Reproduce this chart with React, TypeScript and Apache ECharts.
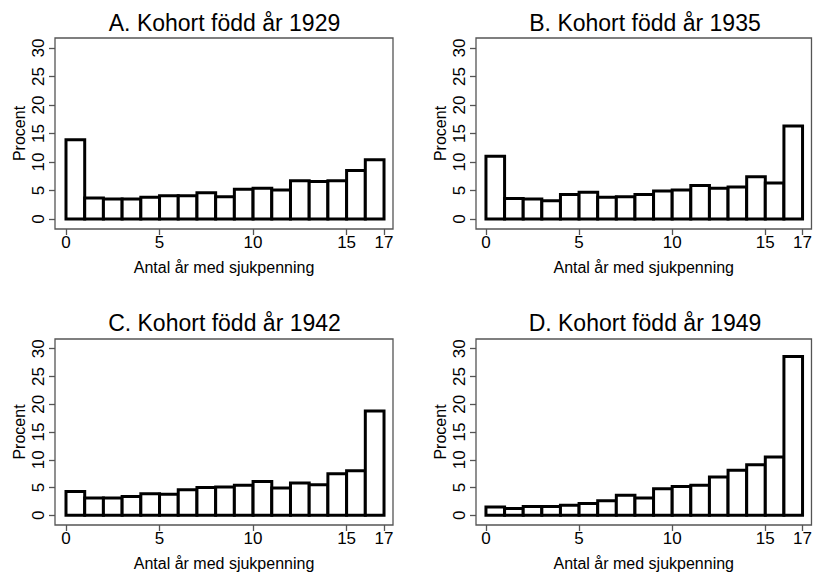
import React, { useEffect, useRef } from "react";
import * as echarts from "echarts";

const titles = [
  "A. Kohort född år 1929",
  "B. Kohort född år 1935",
  "C. Kohort född år 1942",
  "D. Kohort född år 1949",
];

const xTicks = [0, 5, 10, 15, 17];
const yTicks = [0, 5, 10, 15, 20, 25, 30];

const cohort1929 = [13.9, 3.7, 3.5, 3.5, 3.8, 4.1, 4.1, 4.6, 3.9, 5.2, 5.4, 5.1, 6.7, 6.6, 6.7, 8.5, 10.4];
const cohort1935 = [11.0, 3.6, 3.5, 3.2, 4.3, 4.7, 3.8, 3.9, 4.3, 4.9, 5.1, 5.9, 5.4, 5.6, 7.4, 6.3, 16.3];
const cohort1942 = [4.3, 3.1, 3.1, 3.4, 3.9, 3.8, 4.6, 5.0, 5.1, 5.4, 6.1, 4.9, 5.8, 5.5, 7.5, 8.0, 18.8];
const cohort1949 = [1.5, 1.2, 1.6, 1.6, 1.8, 2.1, 2.6, 3.6, 3.1, 4.8, 5.2, 5.4, 6.9, 8.1, 9.1, 10.5, 28.6];

const seriesValues = [cohort1929, cohort1935, cohort1942, cohort1949];

const xAxisName = "Antal år med sjukpenning";
const yAxisName = "Procent";

const FONT = "'Liberation Sans', Arial, sans-serif";

const grids = [
  { left: 55, top: 38, width: 338, height: 191 },
  { left: 476, top: 38, width: 337, height: 191 },
  { left: 55, top: 339, width: 338, height: 190 },
  { left: 476, top: 339, width: 337, height: 190 },
];
const xRanges = [
  [-0.588, 17.48],
  [-0.535, 17.48],
  [-0.588, 17.48],
  [-0.535, 17.48],
];
const titlePos = [
  [224.5, 23],
  [645, 23],
  [224.5, 323],
  [645, 323],
];

export default function App() {
  const ref = useRef<HTMLDivElement>(null);
  useEffect(() => {
    document.body.style.margin = "0";
    if (!ref.current) return;
    const chart = echarts.init(ref.current, null, { renderer: "svg" });
    const option: any = {
      animation: false,
      backgroundColor: "#fff",
      graphic: titles.map((t, i) => ({
        type: "text",
        x: titlePos[i][0],
        y: titlePos[i][1],
        style: {
          text: t,
          font: `23px ${FONT}`,
          fill: "#000",
          align: "center",
          verticalAlign: "middle",
        },
      })),
      grid: grids.map((g) => ({
        ...g,
        show: true,
        borderColor: "#555",
        borderWidth: 1.3,
        backgroundColor: "transparent",
        containLabel: false,
      })),
      xAxis: grids.map((_, i) => ({
        type: "value",
        gridIndex: i,
        min: xRanges[i][0],
        max: xRanges[i][1],
        name: xAxisName,
        nameLocation: "middle",
        nameGap: 30,
        nameTextStyle: { fontSize: 16, color: "#000", fontFamily: FONT },
        axisLine: { show: false, onZero: false },
        axisTick: {
          show: true,
          length: 6,
          customValues: xTicks,
          lineStyle: { color: "#555", width: 1.3 },
        },
        axisLabel: {
          customValues: xTicks,
          fontSize: 17,
          color: "#000",
          fontFamily: FONT,
          margin: 5,
        },
        splitLine: { show: false },
      })),
      yAxis: grids.map((_, i) => ({
        type: "value",
        gridIndex: i,
        min: -1.75,
        max: 31.75,
        name: yAxisName,
        nameLocation: "middle",
        nameGap: 28,
        nameRotate: 90,
        nameTextStyle: { fontSize: 16, color: "#000", fontFamily: FONT },
        axisLine: { show: false, onZero: false },
        axisTick: {
          show: true,
          length: 6,
          customValues: yTicks,
          lineStyle: { color: "#555", width: 1.3 },
        },
        axisLabel: {
          customValues: yTicks,
          rotate: 90,
          fontSize: 17,
          color: "#000",
          fontFamily: FONT,
          margin: 8,
        },
        splitLine: { show: false },
      })),
      series: seriesValues.map((vals, i) => ({
        type: "custom",
        xAxisIndex: i,
        yAxisIndex: i,
        data: vals.map((v, k) => [k, v]),
        encode: { x: 0, y: 1 },
        renderItem: (params: any, api: any) => {
          const x = api.value(0);
          const v = api.value(1);
          const p0 = api.coord([x, 0]);
          const p1 = api.coord([x + 1, v]);
          return {
            type: "rect",
            shape: {
              x: p0[0],
              y: p1[1],
              width: p1[0] - p0[0],
              height: p0[1] - p1[1],
            },
            style: { fill: "#fff", stroke: "#000", lineWidth: 3 },
          };
        },
      })),
    };
    chart.setOption(option);
    return () => chart.dispose();
  }, []);
  return <div ref={ref} style={{ width: 815, height: 572 }} />;
}
